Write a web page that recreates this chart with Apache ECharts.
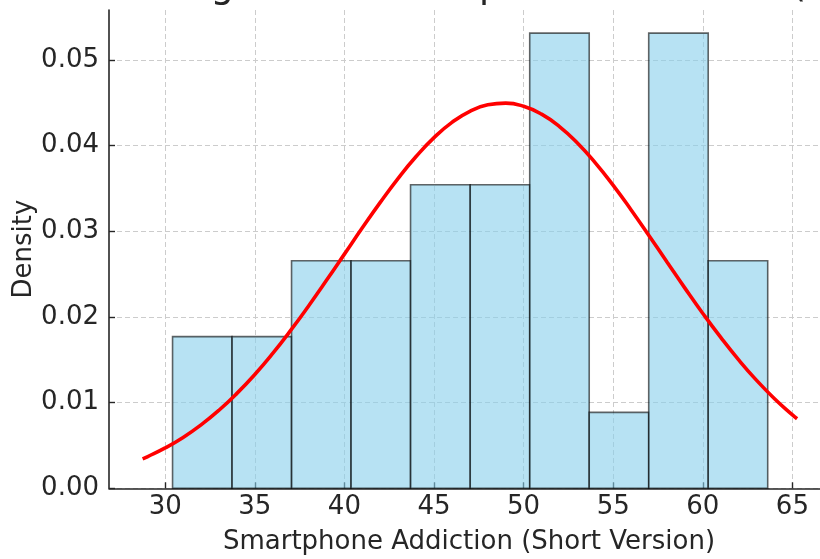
<!DOCTYPE html>
<html>
<head>
<meta charset="utf-8">
<title>Smartphone Addiction (Short Version)</title>
<script src="https://cdn.jsdelivr.net/npm/echarts@6/dist/echarts.min.js"></script>
<style>
  html, body { margin: 0; padding: 0; background: #ffffff; }
  #chart { width: 820px; height: 559px; }
</style>
</head>
<body>
<div id="chart"></div>
<script>
// Histogram bins (10 equal-width bins) and their density heights
const binEdges = [30.41, 33.73, 37.05, 40.37, 43.69, 47.02, 50.34, 53.66, 56.98, 60.30, 63.62];
const densities = [0.01771, 0.01771, 0.02657, 0.02657, 0.03543, 0.03543, 0.05314, 0.00886, 0.05314, 0.02657];

// Fitted normal curve, sampled along the score range
const curveX = [28.74, 29, 30, 31, 32, 33, 34, 35, 36, 37, 38, 39, 40, 41, 42, 43, 44, 45, 46, 47,
                48, 49, 50, 51, 52, 53, 54, 55, 56, 57, 58, 59, 60, 61, 62, 63, 64, 65, 65.26];
const curveY = [0.00344, 0.00368, 0.00471, 0.00594, 0.00740, 0.00911, 0.01108, 0.01329, 0.01575, 0.01843,
                0.02129, 0.02428, 0.02734, 0.03041, 0.03338, 0.03619, 0.03873, 0.04094, 0.04272, 0.04401,
                0.04477, 0.04497, 0.04460, 0.04368, 0.04223, 0.04032, 0.03800, 0.03537, 0.03250, 0.02949,
                0.02642, 0.02337, 0.02041, 0.01761, 0.01499, 0.01260, 0.01046, 0.00857, 0.00812];

// Tick labels
const xTicks = [30, 35, 40, 45, 50, 55, 60, 65];
const yTicks = ['0.00', '0.01', '0.02', '0.03', '0.04', '0.05'];

const titleText = 'Histogram of Smartphone Addiction (Short Version)';
const xName = 'Smartphone Addiction (Short Version)';
const yName = 'Density';

const FONT = 'DejaVu Sans';
const INK = '#262626';
const GRID_LINE = { color: '#cccccc', width: 1, type: [5, 3] };

const bins = densities.map((d, i) => [binEdges[i], binEdges[i + 1], d]);
const curve = curveX.map((x, i) => [x, curveY[i]]);

const yStep = Number(yTicks[1]) - Number(yTicks[0]);
const yTop = Number(yTicks[yTicks.length - 1]);

const chart = echarts.init(document.getElementById('chart'), null, { renderer: 'canvas' });

chart.setOption({
  backgroundColor: '#ffffff',
  animation: false,
  title: {
    text: titleText,
    left: 111,
    top: -36,
    textStyle: { fontFamily: FONT, fontSize: 37, fontWeight: 'normal', color: INK }
  },
  grid: [
    // plotting area
    { left: 109, right: -9, top: 10, bottom: 70.7, outerBoundsMode: 'none' },
    // x ticks, labels and vertical grid lines
    { left: 165.2, right: 27.6, top: 10, bottom: 70.7, outerBoundsMode: 'none' },
    // y ticks, labels and horizontal grid lines
    { left: 109, right: -9, top: 60, bottom: 70.7, outerBoundsMode: 'none' }
  ],
  xAxis: [
    {
      gridIndex: 0, type: 'value', min: 26.864, max: 67.04,
      axisLine: { show: true, lineStyle: { color: INK, width: 1.6 } },
      axisTick: { show: false }, axisLabel: { show: false }, splitLine: { show: false },
      name: xName, nameLocation: 'middle', nameGap: 41,
      nameTextStyle: { fontFamily: FONT, fontSize: 26, color: INK }
    },
    {
      gridIndex: 1, type: 'value', min: xTicks[0], max: xTicks[xTicks.length - 1],
      interval: xTicks[1] - xTicks[0],
      axisLine: { show: false },
      axisTick: { show: true, inside: true, length: 6, lineStyle: { color: INK, width: 1.4 } },
      axisLabel: { show: true, margin: 6, fontFamily: FONT, fontSize: 26, color: INK },
      splitLine: { show: true, lineStyle: GRID_LINE }
    },
    { gridIndex: 2, type: 'value', min: 0, max: 1, show: false }
  ],
  yAxis: [
    {
      gridIndex: 0, type: 'value', min: 0, max: 0.05584,
      axisLine: { show: true, lineStyle: { color: INK, width: 1.6 } },
      axisTick: { show: false }, axisLabel: { show: false }, splitLine: { show: false },
      name: yName, nameLocation: 'middle', nameGap: 72,
      nameTextStyle: { fontFamily: FONT, fontSize: 26, color: INK }
    },
    { gridIndex: 1, type: 'value', min: 0, max: 1, show: false },
    {
      gridIndex: 2, type: 'value', min: 0, max: yTop, interval: yStep,
      axisLine: { show: false },
      axisTick: { show: true, inside: true, length: 6, lineStyle: { color: INK, width: 1.4 } },
      axisLabel: {
        show: true, margin: 10, fontFamily: FONT, fontSize: 26, color: INK,
        formatter: (v) => yTicks[Math.round(v / yStep)]
      },
      splitLine: { show: true, lineStyle: GRID_LINE }
    }
  ],
  series: [
    {
      type: 'custom',
      xAxisIndex: 0, yAxisIndex: 0,
      data: bins,
      encode: { x: [0, 1], y: 2 },
      z: 2,
      renderItem: (params, api) => {
        const topLeft = api.coord([api.value(0), api.value(2)]);
        const bottomRight = api.coord([api.value(1), 0]);
        return {
          type: 'rect',
          shape: {
            x: topLeft[0], y: topLeft[1],
            width: bottomRight[0] - topLeft[0],
            height: bottomRight[1] - topLeft[1]
          },
          style: { fill: 'rgba(135,206,235,0.6)', stroke: 'rgba(0,0,0,0.6)', lineWidth: 1.6 }
        };
      }
    },
    {
      type: 'line',
      xAxisIndex: 0, yAxisIndex: 0,
      data: curve,
      smooth: true,
      symbol: 'none',
      z: 3,
      lineStyle: { color: '#ff0000', width: 3.6 }
    }
  ]
});
</script>
</body>
</html>
